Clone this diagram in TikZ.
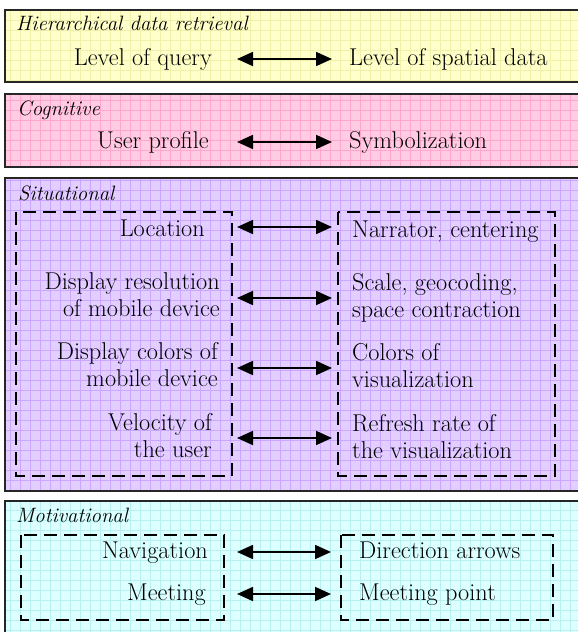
\documentclass[tikz,border=0pt]{standalone}
\usetikzlibrary{arrows.meta}
\definecolor{ybg}{HTML}{FFFFCC}
\definecolor{ygrid}{HTML}{F0F0A8}
\definecolor{pbg}{HTML}{FFCCE4}
\definecolor{pgrid}{HTML}{FFA6CE}
\definecolor{lbg}{HTML}{E2CEFF}
\definecolor{lgrid}{HTML}{CBA6FF}
\definecolor{cbg}{HTML}{DDFFFF}
\definecolor{cgrid}{HTML}{B6F0F0}
\begin{document}
\begin{tikzpicture}[x=1pt,y=-1pt,
  panel/.style={draw=black!85, line width=1.8pt},
  gridln/.style={line width=0.5pt, step=10pt},
  dbox/.style={draw=black, line width=1.5pt, dash pattern=on 13pt off 7pt},
  title/.style={font=\fontsize{20.8}{25}\selectfont\itshape, anchor=base west, inner sep=0pt},
  lt/.style={font=\fontsize{24.3}{27}\selectfont, inner sep=0pt, anchor=base east, align=right},
  rt/.style={font=\fontsize{24.3}{27}\selectfont, inner sep=0pt, anchor=base west, align=left},
  link/.style={{Triangle[length=16pt,width=14pt]}-{Triangle[length=16pt,width=14pt]}, line width=1.7pt}
]
\useasboundingbox (0,0) rectangle (578,632);
\clip (0,0) rectangle (578,632);
\fill[white] (0,0) rectangle (578,632);

% Panel 1
\fill[ybg] (5,10) rectangle (600,82);
\draw[ygrid, gridln] (5,10) grid (600,82);
\draw[panel] (5,10) rectangle (600,82);
% Panel 2
\fill[pbg] (5,94) rectangle (600,167);
\draw[pgrid, gridln] (5,94) grid (600,167);
\draw[panel] (5,94) rectangle (600,167);
% Panel 3
\fill[lbg] (5,178) rectangle (600,491);
\draw[lgrid, gridln] (5,178) grid (600,491);
\draw[panel] (5,178) rectangle (600,491);
% Panel 4
\fill[cbg] (5,501) rectangle (600,650);
\draw[cgrid, gridln] (5,501) grid (600,650);
\draw[panel] (5,501) rectangle (600,650);

% Titles
\node[title] (t1) at (16,30) {Hierarchical data retrieval};
\node[title] (t2) at (17,115) {Cognitive};
\node[title] (t3) at (18,200) {Situational};
\node[title] (t4) at (16,522) {Motivational};

% Panel 1 content
\node[lt] (query) at (212,65) {Level of query};
\node[rt] (spatial) at (349,65) {Level of spatial data};
\coordinate (a1l) at (237,59); \coordinate (a1r) at (332,59);
\draw[link] (a1l) -- (a1r);

% Panel 2 content
\node[lt] (user) at (209,148) {User profile};
\node[rt] (symb) at (349,148) {Symbolization};
\coordinate (a2l) at (237,142); \coordinate (a2r) at (332,142);
\draw[link] (a2l) -- (a2r);

% Panel 3 content
\draw[dbox] (16,212) rectangle (232,476);
\draw[dbox] (338,212) rectangle (555,476);
\node[lt] (loc) at (205,236) {Location};
\node[lt] (res) at (220,316) {Display resolution\\of mobile device};
\node[lt] (col) at (218,386) {Display colors of\\mobile device};
\node[lt] (vel) at (212,457) {Velocity of\\the user};
\node[rt] (narr) at (352,237) {Narrator, centering};
\node[rt] (scale) at (352,317) {Scale, geocoding,\\space contraction};
\node[rt] (vcol) at (352,387) {Colors of\\visualization};
\node[rt] (refr) at (352,458) {Refresh rate of\\the visualization};
\coordinate (a3l) at (237,227); \coordinate (a3r) at (332,227);
\coordinate (a4l) at (237,298); \coordinate (a4r) at (332,298);
\coordinate (a5l) at (237,368); \coordinate (a5r) at (332,368);
\coordinate (a6l) at (237,438); \coordinate (a6r) at (332,438);
\draw[link] (a3l) -- (a3r);
\draw[link] (a4l) -- (a4r);
\draw[link] (a5l) -- (a5r);
\draw[link] (a6l) -- (a6r);

% Panel 4 content
\draw[dbox] (21,535) rectangle (224,620);
\draw[dbox] (341,535) rectangle (553,620);
\node[lt] (nav) at (208,558) {Navigation};
\node[lt] (meet) at (206,600) {Meeting};
\node[rt] (dir) at (359,558) {Direction arrows};
\node[rt] (mpt) at (359,600) {Meeting point};
\coordinate (a7l) at (237,552); \coordinate (a7r) at (331,552);
\coordinate (a8l) at (237,594); \coordinate (a8r) at (331,594);
\draw[link] (a7l) -- (a7r);
\draw[link] (a8l) -- (a8r);
\end{tikzpicture}
\end{document}
